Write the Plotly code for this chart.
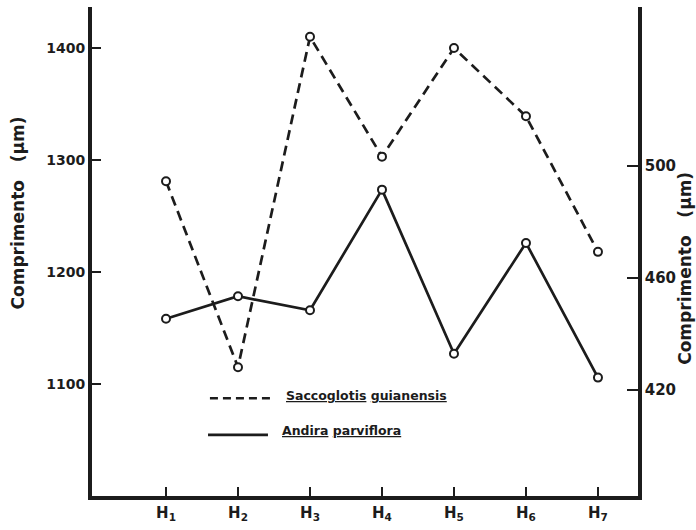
import plotly.graph_objects as go

# ---- data ----
categories = ["H1", "H2", "H3", "H4", "H5", "H6", "H7"]
tick_labels = ["H<sub>1</sub>", "H<sub>2</sub>", "H<sub>3</sub>", "H<sub>4</sub>",
               "H<sub>5</sub>", "H<sub>6</sub>", "H<sub>7</sub>"]
saccoglottis = [1281, 1115, 1410, 1303, 1400, 1339, 1218]   # left axis (µm)
andira = [445.5, 453.5, 448.5, 491.5, 433, 472.5, 424.5]     # right axis (µm)
left_ticks = [1100, 1200, 1300, 1400]
right_ticks = [420, 460, 500]
axis_title = "Comprimento   (µm)"
name_sacco = "<u>Saccoglotis</u> <u>guianensis</u>"
name_andira = "<u>Andira</u> <u>parviflora</u>"

INK = "#1c1c1c"
FONT = "DejaVu Sans"

fig = go.Figure()
fig.add_trace(go.Scatter(
    x=categories, y=saccoglottis, yaxis="y", mode="lines+markers",
    line=dict(color=INK, width=2.7, dash="10px,6px"),
    marker=dict(symbol="circle", size=8, color="white", line=dict(color=INK, width=2)),
    showlegend=False))
fig.add_trace(go.Scatter(
    x=categories, y=andira, yaxis="y2", mode="lines+markers",
    line=dict(color=INK, width=2.7),
    marker=dict(symbol="circle", size=8, color="white", line=dict(color=INK, width=2)),
    showlegend=False))

# manual legend
fig.add_shape(type="line", xref="paper", yref="paper", x0=0.216, x1=0.326, y0=0.2, y1=0.2,
              line=dict(color=INK, width=2.4, dash="8px,5px"))
fig.add_shape(type="line", xref="paper", yref="paper", x0=0.2125, x1=0.3223, y0=0.125, y1=0.125,
              line=dict(color=INK, width=2.8))
fig.add_annotation(xref="paper", yref="paper", x=0.352, y=0.205, xanchor="left", yanchor="middle",
                   text=name_sacco, showarrow=False, font=dict(family=FONT, size=12.5, color=INK, weight="bold"))
fig.add_annotation(xref="paper", yref="paper", x=0.344, y=0.134, xanchor="left", yanchor="middle",
                   text=name_andira, showarrow=False, font=dict(family=FONT, size=12.5, color=INK, weight="bold"))

# axis titles
fig.add_annotation(xref="paper", yref="paper", x=(18 - 92) / 546, y=(502 - 216) / 495,
                   xanchor="center", yanchor="middle", textangle=-90, text=axis_title,
                   showarrow=False, font=dict(family=FONT, size=17, color=INK, weight="bold"))
fig.add_annotation(xref="paper", yref="paper", x=(685 - 92) / 546, y=(502 - 272) / 495,
                   xanchor="center", yanchor="middle", textangle=-90, text=axis_title,
                   showarrow=False, font=dict(family=FONT, size=17, color=INK, weight="bold"))

fig.update_layout(
    width=696, height=530,
    margin=dict(l=92, r=58, t=7, b=28),
    paper_bgcolor="white", plot_bgcolor="white",
    font=dict(family=FONT, color=INK),
    xaxis=dict(type="category", categoryarray=categories, range=[-1.028, 6.556],
               tickvals=categories, ticktext=tick_labels,
               showline=True, linewidth=3.5, linecolor=INK, showgrid=False, zeroline=False,
               ticks="inside", ticklen=9, tickwidth=1.5, tickcolor=INK,
               tickfont=dict(family=FONT, size=15, color=INK, weight="bold")),
    yaxis=dict(range=[1000, 1436.6], tickvals=left_ticks, side="left",
               showline=True, linewidth=4, linecolor=INK, showgrid=False, zeroline=False,
               ticks="inside", ticklen=9, tickwidth=1.5, tickcolor=INK,
               tickfont=dict(family=FONT, size=14, color=INK, weight="bold")),
    yaxis2=dict(range=[382.3, 556.6], tickvals=right_ticks, side="right", overlaying="y",
                showline=True, linewidth=3.5, linecolor=INK, showgrid=False, zeroline=False,
                ticks="inside", ticklen=11, tickwidth=1.5, tickcolor=INK,
                tickfont=dict(family=FONT, size=15, color=INK, weight="bold")),
)

fig.write_html("out.html")
